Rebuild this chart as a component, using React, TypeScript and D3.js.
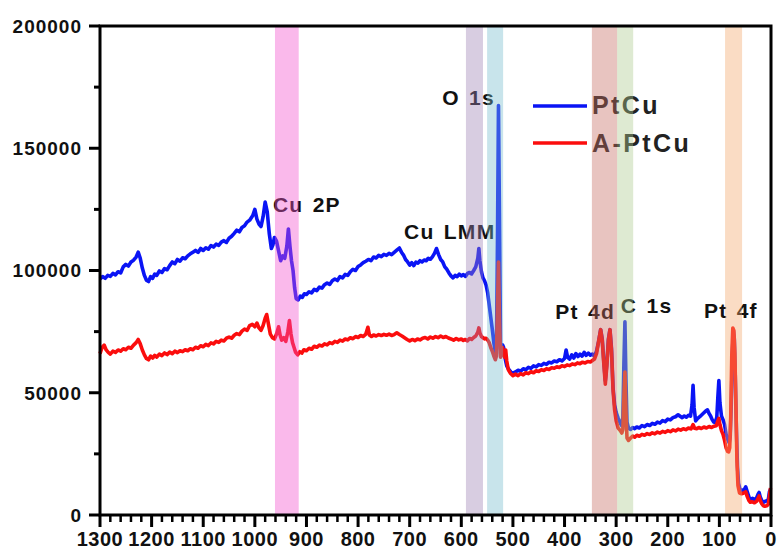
import React from "react";
import * as d3 from "d3";

// XPS survey spectra: [binding energy (eV), intensity (counts)]
const ptCuSpectrum: [number, number][] = [
  [1300, 96500], [1295, 97500], [1290, 96800], [1285, 98000], [1280, 97600], [1275, 98800],
  [1270, 98200], [1265, 99500], [1260, 99000], [1255, 101500], [1250, 102500], [1245, 101800],
  [1240, 103500], [1235, 104200], [1230, 105500], [1226, 107500], [1222, 105000], [1218, 101000],
  [1214, 98000], [1210, 96000], [1206, 95500], [1202, 97500], [1198, 96800], [1194, 98500],
  [1190, 98000], [1185, 99800], [1180, 99200], [1175, 100800], [1170, 100300], [1165, 102000],
  [1160, 103500], [1155, 102800], [1150, 104500], [1145, 103800], [1140, 105200], [1135, 104800],
  [1130, 106000], [1125, 106800], [1120, 107500], [1115, 108200], [1110, 107400], [1105, 109000],
  [1100, 108200], [1095, 109300], [1090, 108700], [1085, 110200], [1080, 109600], [1075, 110800],
  [1070, 110300], [1065, 111600], [1060, 112200], [1055, 111500], [1050, 113200], [1045, 114000],
  [1040, 115200], [1035, 116500], [1030, 115800], [1025, 117600], [1020, 118300], [1015, 119800],
  [1010, 120600], [1004, 122500], [1000, 125000], [996, 121000], [992, 119000], [988, 118000],
  [984, 122000], [980, 128000], [976, 124000], [972, 115000], [968, 109000], [965, 110500],
  [962, 113500], [958, 112000], [954, 108000], [950, 104000], [946, 106000], [942, 105000],
  [938, 110000], [935, 117000], [932, 110000], [929, 104000], [926, 100000], [923, 93000],
  [920, 88500], [916, 88000], [912, 89500], [908, 89000], [904, 90500], [900, 90200],
  [895, 91300], [890, 90800], [885, 92300], [880, 91800], [875, 93200], [870, 92800],
  [865, 94200], [860, 94900], [855, 94300], [850, 95800], [845, 96500], [840, 95900],
  [835, 97500], [830, 97000], [825, 98400], [820, 98000], [815, 99500], [810, 100500],
  [805, 100000], [800, 101600], [795, 102300], [790, 103200], [785, 103800], [780, 104500],
  [775, 104000], [770, 105500], [765, 105100], [760, 106200], [755, 105700], [750, 106600],
  [745, 106200], [740, 107000], [735, 106500], [730, 107400], [725, 108300], [720, 109200],
  [716, 107500], [712, 106300], [708, 104500], [704, 103500], [700, 102200], [696, 103200],
  [692, 102000], [688, 103400], [684, 103000], [680, 104000], [676, 103500], [672, 104300],
  [668, 104000], [664, 105000], [660, 104600], [656, 105600], [652, 107000], [648, 109000],
  [644, 106500], [640, 104500], [636, 103500], [632, 101500], [628, 100500], [624, 99000],
  [620, 97800], [616, 97000], [612, 98000], [608, 97500], [604, 98500], [600, 97800],
  [596, 98300], [592, 97600], [588, 98800], [584, 99200], [580, 98600], [576, 100000],
  [572, 101500], [568, 105000], [566, 109000], [564, 104000], [561, 99500], [558, 97000],
  [555, 95800], [552, 94000], [549, 91000], [546, 86000], [543, 81000], [540, 76000],
  [537, 70500], [534, 66500], [532, 66000], [530, 110000], [528, 167500], [526, 120000],
  [524, 68000], [522, 67500], [520, 69500], [518, 68500], [515, 64000], [512, 61000],
  [508, 59500], [504, 58500], [500, 58000], [495, 58500], [490, 59200], [485, 58800],
  [480, 59800], [475, 59400], [470, 60400], [465, 60000], [460, 61000], [455, 60600],
  [450, 61500], [445, 61200], [440, 62000], [435, 61600], [430, 62500], [425, 62200],
  [420, 63000], [415, 62700], [410, 63500], [405, 63000], [400, 64000], [397, 67500],
  [394, 64500], [390, 63800], [386, 65500], [382, 64200], [378, 66000], [374, 64800],
  [370, 65800], [366, 65000], [362, 66500], [358, 65300], [354, 66200], [350, 65400],
  [346, 65800], [342, 65000], [338, 67000], [334, 71000], [330, 75800], [327, 72000],
  [324, 63000], [321, 55000], [318, 62000], [315, 72000], [312, 75800], [309, 68000],
  [306, 52000], [303, 45000], [300, 42000], [296, 39500], [292, 37500], [289, 36500],
  [287, 40000], [285, 62000], [283, 79000], [281, 55000], [279, 38000], [276, 35500],
  [272, 35000], [268, 35800], [264, 35300], [260, 36000], [255, 35600], [250, 36600],
  [245, 36100], [240, 37000], [235, 36600], [230, 37500], [225, 37100], [220, 38000],
  [215, 37600], [210, 38600], [205, 38200], [200, 39200], [195, 38900], [190, 39800],
  [185, 40200], [180, 41000], [176, 40400], [172, 39800], [168, 40500], [164, 40000],
  [160, 40800], [156, 40400], [153, 45000], [151, 53000], [149, 44000], [146, 38500],
  [142, 39500], [138, 40200], [134, 41000], [130, 41800], [126, 42600], [123, 43000],
  [120, 41500], [117, 40500], [114, 39000], [111, 38000], [108, 37800], [105, 40000],
  [103, 48000], [101, 55000], [99, 46000], [96, 40500], [93, 39000], [90, 37000],
  [87, 33000], [84, 31000], [81, 29500], [79, 32000], [77, 45000], [75, 65000],
  [73, 75500], [71, 72000], [69, 55000], [67, 35000], [65, 20000], [63, 13000],
  [60, 10500], [56, 10000], [52, 10300], [49, 11500], [46, 9500], [43, 7500],
  [40, 6500], [36, 6800], [32, 6300], [28, 7000], [25, 8500], [23, 9200],
  [21, 7500], [18, 6000], [15, 5200], [12, 5500], [8, 5800], [5, 6500], [3, 9500], [1, 10500],
];

const aPtCuSpectrum: [number, number][] = [
  [1300, 66000], [1296, 68500], [1292, 69500], [1288, 67500], [1284, 66500], [1280, 65800],
  [1275, 67000], [1270, 66500], [1265, 67500], [1260, 67000], [1255, 68000], [1250, 67600],
  [1245, 68600], [1240, 68200], [1235, 69500], [1230, 70500], [1226, 71800], [1222, 70000],
  [1218, 67500], [1214, 65500], [1210, 64000], [1206, 63500], [1202, 65000], [1198, 64200],
  [1194, 65300], [1190, 64600], [1185, 65800], [1180, 65200], [1175, 66300], [1170, 65600],
  [1165, 66600], [1160, 66000], [1155, 67000], [1150, 66400], [1145, 67200], [1140, 66800],
  [1135, 67600], [1130, 67200], [1125, 68000], [1120, 67600], [1115, 68600], [1110, 68200],
  [1105, 69200], [1100, 68800], [1095, 69800], [1090, 69300], [1085, 70400], [1080, 70000],
  [1075, 71000], [1070, 70600], [1065, 71500], [1060, 71200], [1055, 72300], [1050, 72800],
  [1045, 72300], [1040, 73500], [1035, 74200], [1030, 73800], [1025, 75200], [1020, 76000],
  [1015, 75500], [1010, 77500], [1005, 78000], [1000, 77000], [996, 78500], [992, 76500],
  [988, 75500], [984, 77500], [980, 80500], [977, 82000], [974, 78500], [970, 74000],
  [966, 72500], [962, 72000], [958, 74000], [954, 77000], [951, 73500], [948, 71500],
  [944, 72500], [940, 71000], [936, 75000], [933, 79500], [930, 74000], [927, 70500],
  [924, 68500], [921, 66500], [917, 65500], [913, 66800], [909, 66200], [905, 67600],
  [900, 67200], [895, 68200], [890, 67800], [885, 69000], [880, 68600], [875, 69500],
  [870, 69100], [865, 70000], [860, 69600], [855, 70500], [850, 70100], [845, 71000],
  [840, 70600], [835, 71500], [830, 71100], [825, 72000], [820, 71600], [815, 72500],
  [810, 72100], [805, 73000], [800, 72600], [795, 73400], [790, 73000], [785, 74000],
  [781, 76800], [778, 73600], [774, 73000], [770, 73600], [765, 73200], [760, 73800],
  [755, 73400], [750, 73900], [745, 73500], [740, 74000], [735, 73400], [730, 73800],
  [725, 74500], [720, 73800], [715, 73200], [710, 72500], [705, 71800], [700, 71200],
  [695, 71800], [690, 71300], [685, 72000], [680, 71600], [675, 72300], [670, 72600],
  [665, 72000], [660, 72800], [655, 72300], [650, 73000], [645, 72500], [640, 73200],
  [635, 72600], [630, 73000], [625, 72400], [620, 72000], [615, 71500], [610, 72200],
  [605, 71600], [600, 72000], [596, 71400], [592, 71800], [588, 71200], [584, 72200],
  [580, 71800], [576, 72600], [572, 73200], [568, 74800], [566, 76500], [564, 74500],
  [561, 73000], [558, 72500], [555, 72000], [552, 72300], [549, 71600], [546, 70500],
  [543, 68500], [540, 67000], [537, 65000], [534, 63500], [532, 65000], [530, 85000],
  [528, 103500], [526, 80000], [524, 64500], [522, 66000], [520, 68500], [518, 66000],
  [516, 64500], [514, 67500], [512, 63000], [509, 59500], [505, 58000], [500, 57000],
  [495, 57600], [490, 57000], [485, 57800], [480, 57300], [475, 58200], [470, 57800],
  [465, 58600], [460, 58200], [455, 59000], [450, 58700], [445, 59400], [440, 59100],
  [435, 59800], [430, 59500], [425, 60200], [420, 60000], [415, 60600], [410, 60300],
  [405, 61000], [400, 60700], [395, 61400], [390, 61100], [385, 61800], [380, 61500],
  [375, 62200], [370, 61900], [365, 62500], [360, 62200], [355, 62800], [350, 62600],
  [346, 63200], [342, 63800], [338, 66000], [334, 71000], [330, 75800], [327, 71500],
  [324, 62000], [321, 53500], [318, 61000], [315, 71500], [312, 75800], [309, 67000],
  [306, 51000], [303, 43000], [300, 38500], [296, 35500], [292, 34500], [289, 33500],
  [287, 35000], [285, 48000], [283, 58500], [281, 42000], [279, 31500], [276, 30500],
  [272, 31500], [268, 32300], [264, 31800], [260, 32600], [255, 32200], [250, 33000],
  [245, 32600], [240, 33300], [235, 32900], [230, 33600], [225, 33200], [220, 33900],
  [215, 33500], [210, 34200], [205, 33800], [200, 34500], [195, 34100], [190, 34800],
  [185, 34400], [180, 35100], [175, 34700], [170, 35300], [165, 34900], [160, 35600],
  [155, 35200], [151, 37000], [148, 35500], [144, 35300], [140, 35800], [135, 35400],
  [130, 36000], [125, 35600], [120, 36200], [115, 35800], [110, 36300], [106, 36500],
  [103, 38500], [101, 39500], [99, 37000], [96, 34500], [93, 33000], [90, 30500],
  [87, 27500], [84, 26000], [82, 25800], [80, 27500], [78, 40000], [76, 65000],
  [74, 76500], [72, 75500], [70, 66000], [68, 45000], [66, 22000], [64, 12000],
  [61, 9000], [57, 8700], [53, 9000], [49, 9500], [46, 7500], [43, 6000],
  [40, 5200], [36, 5400], [32, 5000], [28, 5600], [25, 6800], [23, 7800],
  [21, 6000], [18, 4600], [15, 3800], [12, 3600], [8, 3800], [5, 4500], [3, 8000], [1, 11000],
];

const seriesNames = ["PtCu", "A-PtCu"];
const seriesColors = ["#0a14f5", "#fb0d0d"];

// Highlighted core-level regions (binding energy ranges, eV)
const regionRanges: [number, number][] = [
  [961, 915], [591, 558], [550, 519], [347, 298], [298, 267], [89, 56],
];
const regionColors = ["#f250cd", "#9d82b4", "#75bbcd", "#c56b61", "#acca8e", "#f2a76b"];

// Peak annotations: text, binding energy at text start, intensity at baseline
const peakLabels = ["Cu 2P", "Cu LMM", "O 1s", "Pt 4d", "C 1s", "Pt 4f"];
const peakLabelEnergy = [965, 711, 637, 418, 291, 130];
const peakLabelCounts = [123900, 112900, 167700, 80200, 82600, 80600];

const xTickValues = [1300, 1200, 1100, 1000, 900, 800, 700, 600, 500, 400, 300, 200, 100, 0];
const yTickValues = [0, 50000, 100000, 150000, 200000];

const W = 778;
const H = 550;
const left = 100;
const right = 771;
const top = 26;
const bottom = 515;
const FONT = "'Liberation Sans', Arial, Helvetica, sans-serif";

export default function App() {
  const x = d3.scaleLinear().domain([1300, 0]).range([left, right]);
  const y = d3.scaleLinear().domain([0, 200000]).range([bottom, top]);
  const line = d3
    .line<[number, number]>()
    .x((d) => x(d[0]))
    .y((d) => y(d[1]))
    .curve(d3.curveLinear);

  const minorX = d3.range(0, 1301, 20).filter((v) => v % 100 !== 0);
  const minorY = d3.range(25000, 200000, 50000);

  return (
    <svg
      width={W}
      height={H}
      style={{ position: "fixed", left: 0, top: 0, background: "#fff" }}
      fontFamily={FONT}
      fontWeight="bold"
    >
      <rect width={W} height={H} fill="#fff" />

      {/* spectra */}
      {[ptCuSpectrum, aPtCuSpectrum].map((s, i) => (
        <path
          key={i}
          d={line(s) ?? ""}
          fill="none"
          stroke={seriesColors[i]}
          strokeWidth={3.6}
          strokeLinejoin="round"
        />
      ))}

      {/* peak labels */}
      {peakLabels.map((t, i) => (
        <text
          key={t}
          x={x(peakLabelEnergy[i])}
          y={y(peakLabelCounts[i])}
          fontSize={21}
          letterSpacing={1.3}
          wordSpacing={2}
          fill="#111"
        >
          {t}
        </text>
      ))}

      {/* legend */}
      {seriesNames.map((n, i) => (
        <g key={n}>
          <line x1={533} x2={587} y1={106 + i * 37} y2={106 + i * 37} stroke={seriesColors[i]} strokeWidth={3.5} />
          <text x={592} y={114 + i * 37.5} fontSize={25} letterSpacing={2.4} fill="#222">
            {n}
          </text>
        </g>
      ))}

      {/* shaded regions */}
      {regionRanges.map(([a, b], i) => (
        <rect
          key={i}
          x={x(a)}
          width={x(b) - x(a)}
          y={top}
          height={bottom - top}
          fill={regionColors[i]}
          opacity={0.4}
        />
      ))}

      {/* frame */}
      <rect x={left} y={top} width={right - left} height={bottom - top} fill="none" stroke="#000" strokeWidth={3} />

      {/* x ticks */}
      {xTickValues.map((v) => (
        <g key={v}>
          <line x1={x(v)} x2={x(v)} y1={bottom} y2={bottom + 12} stroke="#000" strokeWidth={3} />
          <text x={x(v)} y={546} textAnchor="middle" fontSize={20} letterSpacing={0.5} fill="#111">
            {v}
          </text>
        </g>
      ))}
      {minorX.map((v) => (
        <line key={v} x1={x(v)} x2={x(v)} y1={bottom} y2={bottom + 7} stroke="#000" strokeWidth={2.5} />
      ))}

      {/* y ticks */}
      {yTickValues.map((v) => (
        <g key={v}>
          <line x1={left - 11} x2={left} y1={y(v)} y2={y(v)} stroke="#000" strokeWidth={3} />
          <text x={82} y={y(v)} dy="0.36em" textAnchor="end" fontSize={19} letterSpacing={1} fill="#111">
            {v}
          </text>
        </g>
      ))}
      {minorY.map((v) => (
        <line key={v} x1={left - 6} x2={left} y1={y(v)} y2={y(v)} stroke="#000" strokeWidth={3} />
      ))}
    </svg>
  );
}
